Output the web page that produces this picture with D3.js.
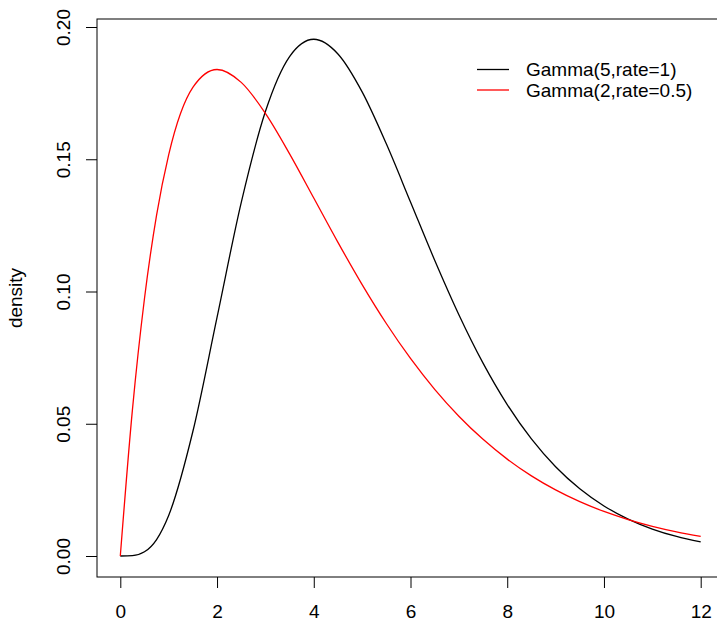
<!DOCTYPE html>
<html>
<head>
<meta charset="utf-8">
<script src="https://cdn.jsdelivr.net/npm/d3@7"></script>
<style>
  body { margin: 0; background: #fff; }
  text { font-family: "Liberation Sans", Arial, sans-serif; }
</style>
</head>
<body>
<svg id="chart" width="717" height="621"></svg>
<script>
// Values
const xValues = [0, 0.25, 0.5, 0.75, 1, 1.5, 2, 2.5, 3, 3.5, 4, 4.5, 5, 5.5, 6, 6.5, 7, 7.5, 8, 8.5, 9, 9.5, 10, 10.5, 11, 11.5, 12];
const gamma5 = [0, 0.00013, 0.00158, 0.00623, 0.01533, 0.04707, 0.09022, 0.1336, 0.16803, 0.18881, 0.19537, 0.18981, 0.17547, 0.15582, 0.13385, 0.11182, 0.09123, 0.07292, 0.05725, 0.04426, 0.03374, 0.0254, 0.01892, 0.01395, 0.01019, 0.00738, 0.00531];
const gamma2 = [0, 0.05516, 0.09735, 0.12887, 0.15163, 0.17714, 0.18394, 0.17906, 0.16735, 0.15205, 0.13534, 0.11858, 0.10261, 0.0879, 0.07468, 0.06301, 0.05285, 0.0441, 0.03663, 0.03031, 0.025, 0.02055, 0.01684, 0.01377, 0.01124, 0.00915, 0.00744];
const seriesNames = ["Gamma(5,rate=1)", "Gamma(2,rate=0.5)"];
const seriesColors = ["#000000", "#ff0000"];
const xTicks = [0, 2, 4, 6, 8, 10, 12];
const yTicks = [0, 0.05, 0.10, 0.15, 0.20];

const svg = d3.select("#chart");

// Plot box
const box = { left: 97, top: 19, right: 722, bottom: 577 };

const x = d3.scaleLinear().domain([0, 12]).range([120.3, 700.7]);
const y = d3.scaleLinear().domain([0, 0.2]).range([556, 27]);

svg.append("rect")
    .attr("x", box.left)
    .attr("y", box.top)
    .attr("width", box.right - box.left)
    .attr("height", box.bottom - box.top)
    .attr("fill", "none")
    .attr("stroke", "#000")
    .attr("stroke-width", 1);

// Axes
const xAxis = svg.append("g")
    .attr("transform", `translate(0,${box.bottom})`)
    .call(d3.axisBottom(x).tickValues(xTicks).tickSize(11).tickFormat(d3.format("d")));
const yAxis = svg.append("g")
    .attr("transform", `translate(${box.left},0)`)
    .call(d3.axisLeft(y).tickValues(yTicks).tickSize(11).tickFormat(d3.format(".2f")));

[xAxis, yAxis].forEach(g => {
    g.select(".domain").remove();
    g.selectAll("line").attr("stroke", "#000");
    g.selectAll("text").attr("font-size", "19px").attr("fill", "#000");
});
xAxis.selectAll("text").attr("dy", null).attr("y", 41);

// rotated y tick labels
yAxis.selectAll(".tick text")
    .attr("x", null).attr("dy", null)
    .attr("text-anchor", "middle")
    .attr("transform", "translate(-27,0) rotate(-90)")
    .attr("y", 0);

// y label
svg.append("text")
    .attr("transform", `translate(22,${(box.top + box.bottom) / 2}) rotate(-90)`)
    .attr("text-anchor", "middle")
    .attr("font-size", "19px")
    .text("density");

// Curves
const line = d3.line()
    .x((d, i) => x(xValues[i]))
    .y(d => y(d))
    .curve(d3.curveMonotoneX);

[gamma5, gamma2].forEach((s, i) => {
    svg.append("path")
        .datum(s)
        .attr("d", line)
        .attr("fill", "none")
        .attr("stroke", seriesColors[i])
        .attr("stroke-width", 1.3);
});

// Legend
const legend = svg.append("g");
seriesNames.forEach((name, i) => {
    const ly = 69.5 + i * 20.5;
    legend.append("line")
        .attr("x1", 477).attr("x2", 509)
        .attr("y1", ly).attr("y2", ly)
        .attr("stroke", seriesColors[i])
        .attr("stroke-width", 1.3);
    legend.append("text")
        .attr("x", 526).attr("y", ly)
        .attr("dy", "0.35em")
        .attr("font-size", "19px")
        .text(name);
});
</script>
</body>
</html>
